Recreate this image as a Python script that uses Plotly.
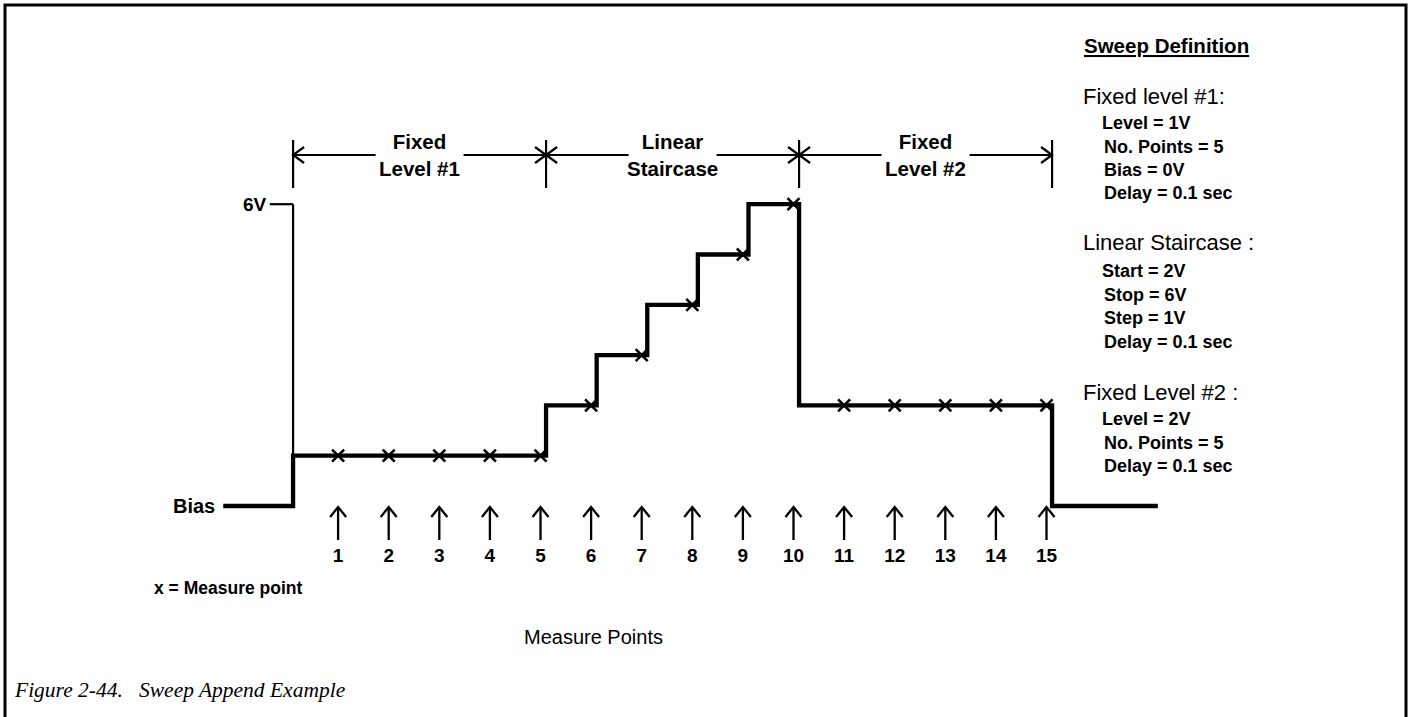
import plotly.graph_objects as go

# ---------------- data ----------------
measure_points = list(range(1, 16))
point_levels = [1, 1, 1, 1, 1, 2, 3, 4, 5, 6, 2, 2, 2, 2, 2]   # volts at each measure point
bias_level = 0
full_scale_level = 6
bias_start = -1.27          # where the bias line starts (measure-point units)
bias_end = 17.2             # where the bias line ends
segment_bounds = [0, 5, 10, 15]
segment_titles = ["Fixed<br>Level #1", "Linear<br>Staircase", "Fixed<br>Level #2"]
point_labels = [str(p) for p in measure_points]

definition_lines = [
    ("<u>Sweep Definition</u>", "small", 45),
    ("Fixed level #1:", "head", 97),
    ("Level = 1V", "sub", 123),
    ("No. Points = 5", "sub", 147),
    ("Bias = 0V", "sub", 170),
    ("Delay = 0.1 sec", "sub", 193),
    ("Linear Staircase :", "head", 243),
    ("Start = 2V", "sub", 271),
    ("Stop = 6V", "sub", 295),
    ("Step = 1V", "sub", 318),
    ("Delay = 0.1 sec", "sub", 342),
    ("Fixed Level #2 :", "head", 392),
    ("Level = 2V", "sub", 419),
    ("No. Points = 5", "sub", 443),
    ("Delay = 0.1 sec", "sub", 466),
]

# ---------------- geometry / style ----------------
W, H = 1410, 717
X0PX, XSCALE = 287.5, 50.6      # pixel of x=0, px per point
Y0PX, YSCALE = 506.0, 50.3      # pixel of 0V, px per volt
xr = [-X0PX / XSCALE, (W - X0PX) / XSCALE]
yr = [-(H - Y0PX) / YSCALE, Y0PX / YSCALE]
off = 0.11                      # step edge lag after a measure point
SANS = "Liberation Sans, Arial, sans-serif"
BLACK = "#000000"

fig = go.Figure()

# ---- sweep waveform ----
xs, ys = [bias_start], [bias_level]
prev_lv, prev_x = bias_level, segment_bounds[0]
for p, lv in zip(measure_points, point_levels):
    if lv != prev_lv:
        xs += [prev_x + off, prev_x + off]
        ys += [prev_lv, lv]
    prev_lv, prev_x = lv, p
xs += [prev_x + off, prev_x + off, bias_end]
ys += [prev_lv, bias_level, bias_level]
fig.add_trace(go.Scatter(x=xs, y=ys, mode="lines",
                         line=dict(color=BLACK, width=4.3), hoverinfo="skip"))

# ---- thin 6V reference line ----
fig.add_trace(go.Scatter(
    x=[-0.35, segment_bounds[0] + off, None, segment_bounds[0] + off, segment_bounds[0] + off],
    y=[full_scale_level, full_scale_level, None, full_scale_level, point_levels[0]],
    mode="lines", line=dict(color=BLACK, width=2.2), hoverinfo="skip"))

# ---- measure markers ----
fig.add_trace(go.Scatter(x=measure_points, y=point_levels, mode="markers",
                         marker=dict(symbol="x-thin", size=12, line=dict(color=BLACK, width=2.6)),
                         hoverinfo="skip"))

# ---- up arrows under each point ----
ax, ay = [], []
dxh, dyh = 8 / XSCALE, 10 / YSCALE
tip, tail = -1 / YSCALE, -34 / YSCALE
for p in measure_points:
    ax += [p, p, None, p - dxh, p, p + dxh, None]
    ay += [tail, tip, None, tip - dyh, tip, tip - dyh, None]
fig.add_trace(go.Scatter(x=ax, y=ay, mode="lines", line=dict(color=BLACK, width=2.3),
                         hoverinfo="skip"))

# ---- point number labels ----
fig.add_trace(go.Scatter(x=measure_points, y=[-51 / YSCALE] * len(measure_points),
                         mode="text", text=point_labels,
                         textfont=dict(family=SANS, size=19, color=BLACK, weight="bold"),
                         hoverinfo="skip"))

# ---- segment brackets ----
by = (Y0PX - 155) / YSCALE
tick_top, tick_bot = (Y0PX - 140) / YSCALE, (Y0PX - 188) / YSCALE
gap = 44 / XSCALE
cdx, cdy = 11 / XSCALE, 8 / YSCALE
bx, byy = [], []
for b in segment_bounds:
    bx += [b + off, b + off, None]
    byy += [tick_bot, tick_top, None]
for i in range(len(segment_titles)):
    left, right = segment_bounds[i] + off, segment_bounds[i + 1] + off
    c = (left + right) / 2
    bx += [left, c - gap, None, c + gap, right, None]
    byy += [by, by, None, by, by, None]
    bx += [left + cdx, left, left + cdx, None, right - cdx, right, right - cdx, None]
    byy += [by + cdy, by, by - cdy, None, by + cdy, by, by - cdy, None]
    fig.add_annotation(x=c, y=by, text=segment_titles[i], showarrow=False,
                       xanchor="center", yanchor="middle",
                       font=dict(family=SANS, size=20.5, color=BLACK, weight="bold"))
fig.add_trace(go.Scatter(x=bx, y=byy, mode="lines", line=dict(color=BLACK, width=2.2),
                         hoverinfo="skip"))

# ---- axis-side labels ----
fig.add_annotation(x=-0.36, y=full_scale_level, text="6V", showarrow=False,
                   xanchor="right", yanchor="middle",
                   font=dict(family=SANS, size=19, color=BLACK, weight="bold"))
fig.add_annotation(x=-1.4, y=bias_level, text="Bias", showarrow=False,
                   xanchor="right", yanchor="middle",
                   font=dict(family=SANS, size=20, color=BLACK, weight="bold"))

# ---- right-side definition block ----
styles = {"small": (1082, 20.5, "bold"), "head": (1081, 22, "normal"), "sub": (1100, 18, "bold")}
for txt, kind, ypx in definition_lines:
    xpx, fs, wt = styles[kind]
    if kind == "sub" and not txt.startswith(("Level", "Start")):
        xpx = 1102
    fig.add_annotation(xref="paper", yref="paper", x=xpx / W, y=1 - ypx / H,
                       text=txt, showarrow=False, xanchor="left", yanchor="middle",
                       font=dict(family=SANS, size=fs, color=BLACK, weight=wt))

# ---- bottom texts ----
fig.add_annotation(xref="paper", yref="paper", x=152 / W, y=1 - 588 / H,
                   text="x = Measure point", showarrow=False, xanchor="left", yanchor="middle",
                   font=dict(family=SANS, size=17.5, color=BLACK, weight="bold"))
fig.add_annotation(xref="paper", yref="paper", x=593 / W, y=1 - 637 / H,
                   text="Measure Points", showarrow=False, xanchor="center", yanchor="middle",
                   font=dict(family=SANS, size=20, color=BLACK))
fig.add_annotation(xref="paper", yref="paper", x=12 / W, y=1 - 690 / H,
                   text="Figure 2-44.   Sweep Append Example", showarrow=False,
                   xanchor="left", yanchor="middle",
                   font=dict(family="Liberation Serif, serif", size=21.5, color=BLACK, style="italic"))

# ---- page frame ----
fig.add_shape(type="rect", xref="paper", yref="paper",
              x0=5 / W, x1=1406 / W, y0=-0.05, y1=1 - 5 / H,
              line=dict(color=BLACK, width=3), layer="above")

fig.update_layout(
    width=W, height=H, margin=dict(l=0, r=0, t=0, b=0),
    paper_bgcolor="white", plot_bgcolor="white", showlegend=False,
    xaxis=dict(range=xr, visible=False, fixedrange=True),
    yaxis=dict(range=yr, visible=False, fixedrange=True),
)

fig.write_html("out.html", config={"displayModeBar": False},
               post_script="document.body.style.margin='0';")
